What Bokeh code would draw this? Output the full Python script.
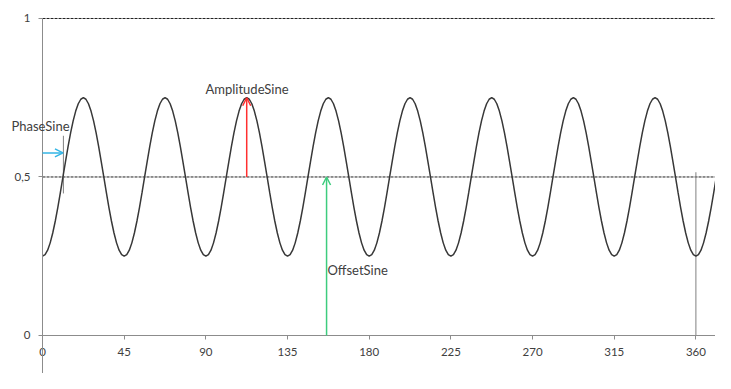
import numpy as np
from bokeh.plotting import figure
from bokeh.models import Range1d, FixedTicker, Arrow, OpenHead, Label
from bokeh.embed import file_html
from bokeh.resources import INLINE

# ---- data ----
OFFSET_SINE = 0.5
AMPLITUDE_SINE = 0.25
PHASE_SINE = 11.25          # degrees (zero crossing)
PERIOD_DEG = 45.0
# one period of the curve, sampled every 1.40625 degrees (starts at a minimum)
ONE_PERIOD = [0.25, 0.2548, 0.2690, 0.2921, 0.3232, 0.3611, 0.4043, 0.4512,
              0.5, 0.5488, 0.5957, 0.6389, 0.6768, 0.7079, 0.7310, 0.7452,
              0.75, 0.7452, 0.7310, 0.7079, 0.6768, 0.6389, 0.5957, 0.5488,
              0.5, 0.4512, 0.4043, 0.3611, 0.3232, 0.2921, 0.2690, 0.2548]
N_PERIODS = 8.5
X_TICKS = [0, 45, 90, 135, 180, 225, 270, 315, 360]
Y_TICKS = [0, 0.5, 1]
Y_TICK_LABELS = {0: "0", 0.5: "0,5", 1: "1"}
X_MIN, X_MAX = -18.2, 370.8
Y_MIN, Y_MAX = -0.12, 1.0315
Y_AXIS_TOP = 1.0
REF_LINES = [0.5, 1.0]
OFFSET_ARROW_X = 156.5
AMPLITUDE_ARROW_X = 112.5
MARK_360 = [360, 0.515]
PHASE_MARK = [11.5, 0.448, 0.63]
PHASE_ARROW_Y = 0.576

step = PERIOD_DEG / len(ONE_PERIOD)
n = int(N_PERIODS * len(ONE_PERIOD)) + 1
xs = np.arange(n) * step
ys = (ONE_PERIOD * 10)[:n]

FONT = "Lato"
AX_COL = "#8c8c8c"
TXT_COL = "#404040"

p = figure(width=715, height=373, output_backend="svg", toolbar_location=None,
           x_range=Range1d(X_MIN, X_MAX), y_range=Range1d(Y_MIN, Y_MAX),
           min_border_left=9, min_border_right=0, min_border_top=8,
           min_border_bottom=0)
p.outline_line_color = None
p.xgrid.visible = False
p.ygrid.visible = False

# x axis crossing at y = 0
xa = p.xaxis[0]
xa.fixed_location = 0
xa.bounds = (0, X_MAX)
xa.ticker = FixedTicker(ticks=X_TICKS)
xa.axis_line_color = AX_COL
xa.major_tick_line_color = AX_COL
xa.major_tick_in = 0
xa.major_tick_out = 4
xa.minor_tick_line_color = None
xa.major_label_text_font = FONT
xa.major_label_text_font_size = "11.5px"
xa.major_label_text_color = TXT_COL
xa.major_label_standoff = 9

# y axis crossing at x = 0
ya = p.yaxis[0]
ya.fixed_location = 0
ya.bounds = (Y_MIN, Y_AXIS_TOP)
ya.ticker = FixedTicker(ticks=Y_TICKS)
ya.major_label_overrides = Y_TICK_LABELS
ya.axis_line_color = AX_COL
ya.major_tick_line_color = AX_COL
ya.major_tick_in = 0
ya.major_tick_out = 4
ya.minor_tick_line_color = None
ya.major_label_text_font = FONT
ya.major_label_text_font_size = "11.5px"
ya.major_label_text_color = TXT_COL
ya.major_label_standoff = 8

# dashed horizontal lines at 0.5 and 1
p.segment(x0=[0] * len(REF_LINES), y0=REF_LINES, x1=[X_MAX + 20] * len(REF_LINES),
          y1=REF_LINES, line_color="#202020", line_dash="3 1", line_width=1)

# helper marks
p.segment(x0=[MARK_360[0]], y0=[0], x1=[MARK_360[0]], y1=[MARK_360[1]],
          line_color="#808080", line_width=1)
p.segment(x0=[PHASE_MARK[0]], y0=[PHASE_MARK[1]], x1=[PHASE_MARK[0]], y1=[PHASE_MARK[2]],
          line_color="#808080", line_width=1)

# sine curve
p.line(xs, ys, line_color="#383838", line_width=1.5)

# arrows
p.add_layout(Arrow(end=OpenHead(size=8, line_color="#33b5e5", line_width=1.5),
                   x_start=0, y_start=PHASE_ARROW_Y, x_end=PHASE_SINE, y_end=PHASE_ARROW_Y,
                   line_color="#33b5e5", line_width=1.5))
p.add_layout(Arrow(end=OpenHead(size=8, line_color="#ff3030", line_width=1.5),
                   x_start=AMPLITUDE_ARROW_X, y_start=OFFSET_SINE,
                   x_end=AMPLITUDE_ARROW_X, y_end=OFFSET_SINE + AMPLITUDE_SINE,
                   line_color="#ff3030", line_width=1.5))
p.add_layout(Arrow(end=OpenHead(size=8, line_color="#3dcc7e", line_width=1.5),
                   x_start=OFFSET_ARROW_X, y_start=0,
                   x_end=OFFSET_ARROW_X, y_end=OFFSET_SINE,
                   line_color="#3dcc7e", line_width=1.5))

# labels
lbl = dict(text_font=FONT, text_font_size="13px", text_color=TXT_COL,
           text_baseline="middle")
p.add_layout(Label(x=-17.1, y=0.662, text="PhaseSine", **lbl))
p.add_layout(Label(x=89.8, y=0.776, text="AmplitudeSine", **lbl))
p.add_layout(Label(x=157, y=0.208, text="OffsetSine", **lbl))

open("out.html", "w").write(file_html(p, INLINE))
